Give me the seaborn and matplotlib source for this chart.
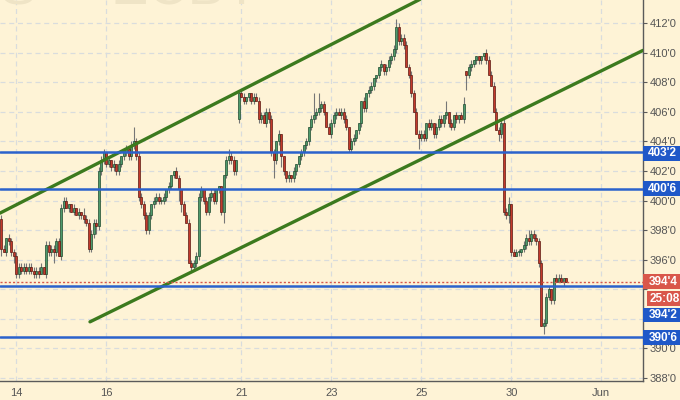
import numpy as np
import pandas as pd
import matplotlib
matplotlib.use("Agg")
import matplotlib.pyplot as plt
import matplotlib.transforms as mtransforms
from matplotlib.patches import Rectangle
import seaborn as sns

# ---------------- data (hourly candles, price in cents) ----------------
opens = [
    398.75, 396.75, 396.5, 397.5, 397.25, 396.5, 396.25, 395.0, 395.5, 395.25,
    395.5, 395.25, 395.5, 395.25, 395.0, 395.25, 395.0, 395.5, 395.0, 397.0,
    396.5, 396.75, 396.5, 397.25, 396.25, 399.5, 400.0, 399.5, 399.75, 399.25,
    399.5, 399.0, 399.25, 399.0, 398.75, 398.5, 396.75, 397.75, 398.5, 398.25,
    402.0, 402.75, 403.25, 402.5, 402.75, 402.25, 402.5, 402.0, 402.5, 403.0,
    403.25, 403.5, 403.0, 403.75, 404.0, 403.0, 400.25, 399.75, 399.0, 398.0,
    399.0, 399.75, 400.0, 400.25, 400.0, 400.0, 400.25, 400.75, 401.0, 401.75,
    402.0, 401.5, 400.75, 399.75, 399.0, 398.5, 395.75, 395.5, 395.75, 396.25,
    400.25, 400.75, 400.0, 399.25, 400.25, 400.5, 400.0, 400.75, 401.0, 399.25,
    401.75, 402.75, 403.0, 402.75, 402.0, 405.5, 407.25, 407.0, 406.75, 407.0,
    407.25, 406.75, 407.0, 406.75, 405.5, 405.75, 405.25, 406.0, 405.5, 403.25,
    402.75, 404.0, 404.5, 403.0, 402.0, 401.5, 401.75, 401.5, 402.0, 402.5,
    403.0, 403.25, 403.75, 404.0, 405.0, 405.5, 405.75, 406.0, 406.25, 406.5,
    406.0, 405.0, 404.5, 405.25, 405.75, 406.0, 405.75, 406.0, 405.5, 405.0,
    403.5, 404.0, 404.25, 404.75, 405.25, 406.75, 406.25, 407.25, 407.5, 407.75,
    408.25, 408.5, 409.0, 409.25, 408.75, 409.0, 409.5, 409.75, 410.25, 411.75,
    410.75, 411.0, 410.5, 409.0, 408.5, 407.25, 406.0, 404.5, 404.25, 404.5,
    404.25, 405.25, 405.0, 405.25, 404.5, 405.0, 405.5, 405.25, 405.75, 406.0,
    405.25, 405.0, 405.75, 405.5, 405.75, 405.5, 408.75, 408.5, 409.0, 409.25,
    409.5, 409.75, 409.5, 409.75, 410.0, 409.5, 408.5, 407.75, 406.0, 404.75,
    404.5, 405.25, 399.25, 399.0, 399.75, 396.5, 396.25, 396.5, 396.5, 396.75,
    397.0, 397.5, 397.25, 397.75, 397.5, 397.25, 395.75, 391.5, 391.75, 393.5,
    394.0, 393.25, 394.75, 394.5, 394.75, 394.5, 394.75,
]
highs = [
    399.0, 397.0, 397.5, 397.75, 397.5, 396.75, 396.5, 395.75, 395.75, 395.75,
    395.75, 395.75, 395.75, 395.5, 395.5, 395.5, 395.75, 395.5, 397.25, 397.25,
    397.0, 397.0, 397.5, 397.5, 399.75, 400.25, 400.25, 399.75, 399.75, 399.75,
    399.5, 399.5, 399.25, 399.5, 399.0, 398.75, 398.0, 398.75, 398.75, 402.25,
    403.0, 403.5, 403.25, 403.0, 402.75, 402.75, 402.5, 402.75, 403.0, 403.5,
    403.75, 403.5, 404.0, 405.0, 404.25, 403.25, 400.5, 400.0, 399.25, 399.25,
    399.75, 400.25, 400.5, 400.5, 400.25, 400.5, 400.75, 401.25, 401.75, 402.0,
    402.25, 401.75, 400.75, 400.0, 399.25, 398.75, 396.0, 396.0, 396.5, 400.5,
    401.0, 400.75, 400.25, 400.5, 400.75, 400.75, 400.75, 401.0, 401.0, 401.75,
    403.0, 403.5, 403.25, 403.0, 402.75, 407.25, 407.5, 407.25, 407.0, 407.25,
    407.25, 407.25, 407.25, 407.0, 406.0, 406.0, 406.25, 406.25, 405.75, 403.5,
    404.0, 404.75, 404.5, 403.0, 402.0, 402.0, 401.75, 402.25, 402.5, 403.0,
    403.5, 403.75, 404.25, 405.0, 405.75, 407.25, 406.25, 407.25, 406.75, 406.75,
    406.0, 405.25, 405.5, 406.0, 406.25, 406.25, 406.25, 406.25, 405.75, 405.0,
    404.25, 404.5, 404.75, 405.25, 406.75, 407.0, 407.25, 407.75, 408.0, 408.25,
    408.5, 409.0, 409.5, 409.25, 409.25, 409.75, 410.0, 410.5, 412.25, 412.0,
    411.25, 411.25, 410.75, 409.25, 408.75, 407.5, 406.25, 404.75, 404.75, 404.75,
    405.25, 405.5, 405.5, 405.25, 405.25, 405.75, 405.75, 405.75, 406.75, 406.0,
    405.5, 405.75, 406.0, 405.75, 406.0, 407.0, 408.75, 409.25, 409.5, 409.5,
    409.75, 409.75, 409.75, 410.0, 410.25, 409.75, 408.75, 408.0, 406.25, 405.0,
    405.5, 405.5, 399.5, 400.25, 399.75, 396.75, 396.75, 396.75, 396.75, 397.25,
    397.75, 398.0, 398.0, 398.0, 397.75, 397.5, 396.0, 392.0, 393.75, 394.25,
    394.0, 394.75, 395.0, 395.0, 395.0, 394.75, 394.75,
]
lows = [
    396.25, 396.5, 396.25, 397.0, 396.25, 395.75, 394.75, 394.75, 395.0, 395.0,
    395.0, 395.0, 395.0, 394.75, 394.75, 394.75, 395.0, 395.0, 394.75, 396.25,
    396.25, 395.75, 396.25, 396.25, 396.0, 399.25, 399.5, 399.25, 399.25, 399.0,
    399.0, 398.75, 398.75, 398.5, 398.25, 396.5, 396.5, 397.5, 397.75, 398.0,
    401.75, 402.5, 402.25, 402.25, 402.0, 402.0, 401.75, 401.75, 402.25, 402.75,
    403.0, 402.75, 402.75, 403.5, 402.75, 400.0, 399.5, 398.75, 397.75, 397.75,
    398.75, 399.5, 399.75, 399.75, 399.75, 399.75, 400.0, 400.5, 400.75, 401.5,
    401.5, 400.0, 399.25, 399.0, 398.5, 395.75, 395.25, 395.25, 395.5, 396.0,
    400.0, 399.75, 399.0, 399.0, 400.0, 399.75, 399.75, 400.5, 399.0, 398.5,
    401.5, 402.5, 402.5, 401.75, 401.75, 405.25, 407.0, 406.5, 406.5, 406.75,
    406.5, 406.5, 406.75, 405.25, 405.25, 405.25, 405.0, 405.25, 403.0, 401.5,
    402.5, 403.75, 402.25, 401.75, 401.25, 401.25, 401.25, 401.25, 401.75, 402.25,
    402.75, 403.0, 403.5, 403.75, 404.75, 405.25, 405.5, 405.75, 406.0, 405.75,
    405.0, 404.5, 404.25, 405.0, 405.5, 405.75, 405.5, 405.25, 404.75, 403.25,
    403.25, 403.75, 404.0, 404.5, 405.0, 406.0, 406.0, 407.0, 407.25, 407.5,
    408.0, 408.25, 408.75, 408.5, 408.5, 408.75, 409.25, 409.5, 410.0, 410.5,
    410.5, 410.25, 409.0, 408.25, 407.0, 406.0, 404.5, 403.5, 404.0, 404.0,
    404.0, 404.75, 404.75, 404.25, 404.25, 404.75, 405.0, 405.0, 405.5, 405.0,
    404.75, 404.75, 405.25, 405.25, 405.5, 405.25, 407.5, 408.25, 408.75, 409.0,
    409.25, 409.25, 409.25, 409.5, 409.25, 408.5, 407.75, 406.0, 404.75, 404.0,
    404.25, 399.0, 398.75, 398.5, 396.25, 396.25, 396.25, 396.25, 396.25, 396.5,
    396.75, 397.0, 397.0, 397.25, 397.0, 395.5, 391.5, 391.0, 391.5, 393.25,
    393.0, 393.0, 394.5, 394.5, 394.5, 394.25, 394.5,
]
closes = [
    396.75, 396.5, 397.5, 397.25, 396.5, 396.25, 395.0, 395.5, 395.25, 395.5,
    395.25, 395.5, 395.25, 395.0, 395.25, 395.0, 395.5, 395.0, 397.0, 396.5,
    396.75, 396.5, 397.25, 396.25, 399.5, 400.0, 399.5, 399.75, 399.25, 399.5,
    399.0, 399.25, 399.0, 398.75, 398.5, 396.75, 397.75, 398.5, 398.25, 402.0,
    402.75, 403.25, 402.5, 402.75, 402.25, 402.5, 402.0, 402.5, 403.0, 403.25,
    403.5, 403.0, 403.75, 404.0, 403.0, 400.25, 399.75, 399.0, 398.0, 399.0,
    399.75, 400.0, 400.25, 400.0, 400.0, 400.25, 400.75, 401.0, 401.75, 402.0,
    401.5, 400.75, 399.75, 399.0, 398.5, 395.75, 395.5, 395.75, 396.25, 400.25,
    400.75, 400.0, 399.25, 400.25, 400.5, 400.0, 400.75, 401.0, 399.25, 401.75,
    402.75, 403.0, 402.75, 402.0, 402.75, 407.25, 407.0, 406.75, 407.0, 407.25,
    406.75, 407.0, 406.75, 405.5, 405.75, 405.25, 406.0, 405.5, 403.25, 402.75,
    404.0, 404.5, 403.0, 402.0, 401.5, 401.75, 401.5, 402.0, 402.5, 403.0,
    403.25, 403.75, 404.0, 405.0, 405.5, 405.75, 406.0, 406.25, 406.5, 406.0,
    405.0, 404.5, 405.25, 405.75, 406.0, 405.75, 406.0, 405.5, 405.0, 403.5,
    404.0, 404.25, 404.75, 405.25, 406.75, 406.25, 407.25, 407.5, 407.75, 408.25,
    408.5, 409.0, 409.25, 408.75, 409.0, 409.5, 409.75, 410.25, 411.75, 410.75,
    411.0, 410.5, 409.0, 408.5, 407.25, 406.0, 404.5, 404.25, 404.5, 404.25,
    405.25, 405.0, 405.25, 404.5, 405.0, 405.5, 405.25, 405.75, 406.0, 405.25,
    405.0, 405.75, 405.5, 405.75, 405.5, 406.5, 408.5, 409.0, 409.25, 409.5,
    409.75, 409.5, 409.75, 410.0, 409.5, 408.5, 407.75, 406.0, 404.75, 404.5,
    405.25, 399.25, 399.0, 399.75, 396.5, 396.25, 396.5, 396.5, 396.75, 397.0,
    397.5, 397.25, 397.75, 397.5, 397.25, 395.75, 391.5, 391.75, 393.5, 394.0,
    393.25, 394.75, 394.5, 394.75, 394.5, 394.75, 394.5,
]

# x-axis session labels (bar index where each labelled day starts)
tick_days = ["14", "16", "21", "23", "25", "30", "Jun"]
tick_bars = [6, 42, 96, 132, 168, 204, 240]

# price axis ticks (labels hidden behind the price tags are left blank)
price_ticks = [388, 390, 392, 394, 396, 398, 400, 402, 404, 406, 408, 410, 412]
hidden_tick_labels = [392, 394]

# horizontal support / resistance levels
levels = [403.25, 400.75, 394.25, 390.75]

# trend channel lines (bar index, price)
upper_bars = [-0.5, 167.5]
upper_prices = [399.15, 413.6]
lower_bars = [35.5, 256.7]
lower_prices = [391.8, 410.15]

# right-edge price tags
tag_texts = ["403'2", "400'6", "394'4", "25:08", "394'2", "390'6"]
tag_prices = [403.2, 400.8, 394.5, 393.37, 392.26, 390.74]
tag_kinds = ["level", "level", "last", "last", "level", "level"]
last_price = 394.5

# ---------------- styling ----------------
sns.set_theme(style="white")
plt.rcParams["font.family"] = ["Liberation Sans", "DejaVu Sans"]

BG = "#FEF3D6"
GREEN_BODY = "#4E9A6C"
GREEN_EDGE = "#1F4A2E"
RED_BODY = "#C4392B"
RED_EDGE = "#5B1A12"
WICK = "#767676"
BLUE = "#2B62CC"
TAG_BLUE = "#1F58C8"
TAG_RED = "#D9574A"
TREND = "#3C7A1E"
GRID = "#D9DCDD"
AXIS = "#5A5A5A"

def fmt_price(p):
    whole = int(np.floor(p))
    eighths = int(round((p - whole) * 8))
    return f"{whole}'{eighths}"

fig = plt.figure(figsize=(6.8, 4.0), dpi=100, facecolor=BG)
ax = fig.add_axes([0.0, 19 / 400, 643 / 680, 381 / 400])
ax.set_facecolor(BG)

df = pd.DataFrame({"o": opens, "h": highs, "l": lows, "c": closes})
df["i"] = np.arange(len(df))
up = df["c"] >= df["o"]

ax.set_xlim(-0.5, 256.7)
ax.set_ylim(387.8, 413.555)

# grid
for t in tick_bars:
    ax.axvline(t, color=GRID, lw=0.9, ls=(0, (4, 3)), zorder=0)
for p in price_ticks:
    ax.axhline(p, color=GRID, lw=0.9, ls=(0, (4, 3)), zorder=0)

# wicks
ax.vlines(df["i"], df["l"], df["h"], color=WICK, lw=0.8, zorder=2)
# bodies
bottoms = np.minimum(df["o"], df["c"])
heights = np.maximum(np.abs(df["c"] - df["o"]), 0.06)
ax.bar(df["i"][up], heights[up], bottom=bottoms[up], width=0.72,
       color=GREEN_BODY, edgecolor=GREEN_EDGE, linewidth=0.5, zorder=3)
ax.bar(df["i"][~up], heights[~up], bottom=bottoms[~up], width=0.72,
       color=RED_BODY, edgecolor=RED_EDGE, linewidth=0.5, zorder=3)

# trend lines via seaborn
sns.lineplot(x=upper_bars, y=upper_prices, ax=ax, color=TREND, lw=2.4, zorder=4)
sns.lineplot(x=lower_bars, y=lower_prices, ax=ax, color=TREND, lw=2.4, zorder=4)

# levels
for lv in levels:
    ax.axhline(lv, color=BLUE, lw=1.8, zorder=5)
ax.axhline(last_price, color=TAG_RED, lw=1.0, ls=(0, (1.5, 1.5)), zorder=5)

# axes styling
for s in ["left", "top"]:
    ax.spines[s].set_visible(False)
for s in ["right", "bottom"]:
    ax.spines[s].set_color(AXIS)
    ax.spines[s].set_linewidth(1.0)
ax.yaxis.tick_right()
ax.set_yticks(price_ticks)
ax.set_yticklabels(["" if p in hidden_tick_labels else fmt_price(p)
                    for p in price_ticks])
ax.set_xticks(tick_bars)
ax.set_xticklabels(tick_days)
ax.tick_params(axis="y", direction="out", length=3, width=0.8, color=AXIS,
               labelsize=8, labelcolor="#555555", pad=2)
ax.tick_params(axis="x", direction="out", length=3, width=0.8, color=AXIS,
               labelsize=8, labelcolor="#555555", pad=2)
ax.set_xlabel("")
ax.set_ylabel("")
ax.grid(False)

# watermark (cut off by top edge)
ax.text(0.0, 1.025, "S     ZCBT", transform=ax.transAxes, fontsize=40,
        color="#EFE4C6", va="center", ha="left", zorder=1, clip_on=True)

# price tags at right edge
trans = mtransforms.blended_transform_factory(fig.transFigure, ax.transData)
box_h = 1.0
for txt, pr, kind in zip(tag_texts, tag_prices, tag_kinds):
    color = TAG_BLUE if kind == "level" else TAG_RED
    x0 = 643 / 680 if txt != "25:08" else 647 / 680
    rect = Rectangle((x0, pr - box_h / 2), 1.0 - x0, box_h, transform=trans,
                     facecolor=color, edgecolor="none", clip_on=False, zorder=10)
    fig.add_artist(rect)
    fig.text((x0 + 1.0) / 2 + 0.002, pr, txt, transform=trans, color="white",
             fontsize=8.5, fontweight="bold", ha="center", va="center",
             zorder=11)

fig.savefig("out.png", dpi=100, facecolor=BG)
